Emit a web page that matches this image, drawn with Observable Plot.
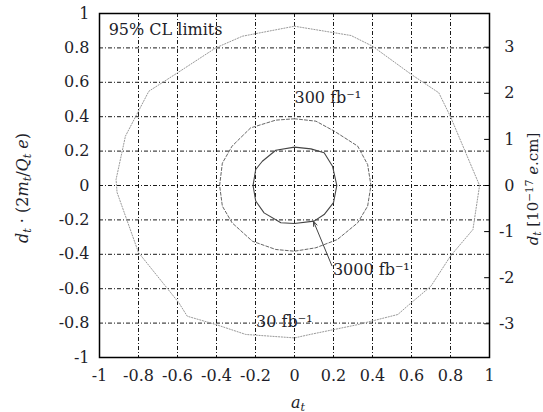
<!DOCTYPE html>
<html>
<head>
<meta charset="utf-8">
<script src="https://cdn.jsdelivr.net/npm/d3@7"></script>
<script src="https://cdn.jsdelivr.net/npm/@observablehq/plot@0.6"></script>
<style>
  html, body { margin: 0; padding: 0; background: #fff; }
  #chart { width: 543px; height: 412px; }
</style>
</head>
<body>
<div id="chart"></div>
<script>
// ---- data ----
const xTicks = [-1, -0.8, -0.6, -0.4, -0.2, 0, 0.2, 0.4, 0.6, 0.8, 1];
const yTicks = [-1, -0.8, -0.6, -0.4, -0.2, 0, 0.2, 0.4, 0.6, 0.8, 1];
const gridValues = [-0.8, -0.6, -0.4, -0.2, 0, 0.2, 0.4, 0.6, 0.8];
const rightTicks = [-3, -2, -1, 0, 1, 2, 3];       // d_t in 10^-17 e.cm
const rightScale = 0.268;                          // left-axis units per right-axis unit

// 95% CL contours, [a_t, d_t*(2m_t/Q_t e)]
const contour30 = [
  [0, 0.926], [0.29, 0.872], [0.40, 0.81], [0.60, 0.645], [0.74, 0.539], [0.80, 0.40],
  [0.949, 0.0], [0.915, -0.256], [0.80, -0.41], [0.70, -0.585], [0.58, -0.70], [0.53, -0.75],
  [0.32, -0.81], [0.08, -0.866], [0, -0.886], [-0.25, -0.866], [-0.404, -0.808], [-0.55, -0.76],
  [-0.593, -0.682], [-0.80, -0.39], [-0.91, -0.04], [-0.915, 0.035], [-0.867, 0.287],
  [-0.747, 0.548], [-0.60, 0.655], [-0.404, 0.80], [-0.267, 0.868], [0, 0.926]
];
const contour300 = [
  [0, 0.388], [0.11, 0.374], [0.204, 0.316], [0.324, 0.229], [0.375, 0.122], [0.392, 0],
  [0.375, -0.12], [0.324, -0.217], [0.22, -0.314], [0.11, -0.362], [0, -0.382],
  [-0.096, -0.372], [-0.216, -0.324], [-0.32, -0.217], [-0.37, -0.12], [-0.384, 0],
  [-0.37, 0.13], [-0.32, 0.229], [-0.225, 0.335], [-0.096, 0.38], [0, 0.388]
];
const contour3000 = [
  [0, 0.223], [0.084, 0.213], [0.152, 0.19], [0.195, 0.112], [0.217, 0], [0.2, -0.10],
  [0.152, -0.169], [0.10, -0.207], [0, -0.221], [-0.07, -0.217], [-0.156, -0.159],
  [-0.199, -0.09], [-0.2125, 0], [-0.199, 0.093], [-0.165, 0.141], [-0.096, 0.205], [0, 0.223]
];

const labelTexts = ["95% CL limits", "300 fb⁻¹", "3000 fb⁻¹", "30 fb⁻¹"];
const labelX = [-0.953, 0.0, 0.197, -0.197];
const labelY = [0.907, 0.51, -0.488, -0.794];

const arrowStart = [0.192, -0.467];
const arrowEnd = [0.097, -0.207];

// ---- chart ----
const FONT = "DejaVu Serif";
const labels = labelTexts.map((t, i) => ({text: t, x: labelX[i], y: labelY[i]}));
const tf = d => String(d);

const plot = Plot.plot({
  width: 543,
  height: 412,
  marginLeft: 99,
  marginRight: 54,
  marginTop: 13,
  marginBottom: 55,
  x: {domain: [-1, 1]},
  y: {domain: [-1, 1]},
  style: {fontFamily: FONT, fontSize: "16px", color: "#1e1e2a", background: "#fff"},
  marks: [
    Plot.ruleX(gridValues, {stroke: "#000", strokeWidth: 0.9, strokeDasharray: "4,2,1,2"}),
    Plot.ruleY(gridValues, {stroke: "#000", strokeWidth: 0.9, strokeDasharray: "4,2,1,2"}),
    Plot.line(contour30, {x: d => d[0], y: d => d[1], stroke: "#999", strokeWidth: 1, strokeDasharray: "1.2,1.6", curve: "linear"}),
    Plot.line(contour300, {x: d => d[0], y: d => d[1], stroke: "#666", strokeWidth: 1, strokeDasharray: "3,2", curve: "linear"}),
    Plot.line(contour3000, {x: d => d[0], y: d => d[1], stroke: "#444", strokeWidth: 1.1, curve: "linear"}),
    Plot.ruleY(rightTicks, {y: d => d * rightScale, x1: 0.975, x2: 1, stroke: "#000", strokeWidth: 1}),
    Plot.frame({stroke: "#000", strokeWidth: 1.5}),
    Plot.arrow([{s: arrowStart, e: arrowEnd}], {
      x1: d => d.s[0], y1: d => d.s[1], x2: d => d.e[0], y2: d => d.e[1],
      stroke: "#444", strokeWidth: 1, headLength: 8, headAngle: 40
    }),
    Plot.text(labels, {x: "x", y: "y", text: "text", textAnchor: "start", fontSize: 16, fill: "#1e1e2a"}),
    Plot.axisX({ticks: xTicks, tickSize: 0, tickPadding: 12, tickFormat: tf, label: null, fontSize: 16}),
    Plot.axisY({anchor: "left", ticks: yTicks, tickSize: 0, tickPadding: 10, tickFormat: tf, label: null, fontSize: 16}),
    Plot.text(rightTicks, {x: 1, y: d => d * rightScale, text: d => String(d), dx: 25, textAnchor: "end", fontSize: 16, fill: "#1e1e2a"})
  ]
});

document.getElementById("chart").appendChild(plot);

// ---- axis titles with italic variables and sub/superscripts ----
const svg = d3.select(plot);
function addLabel(x, y, rotate, size, parts) {
  const t = svg.append("text")
    .attr("transform", `translate(${x},${y}) rotate(${rotate})`)
    .attr("text-anchor", "middle")
    .attr("dy", "0.35em")
    .attr("font-family", FONT)
    .attr("font-size", size)
    .attr("fill", "#1e1e2a");
  parts.forEach(p => {
    const s = t.append("tspan").text(p.t);
    if (p.i) s.attr("font-style", "italic");
    if (p.sub) s.attr("font-size", size * 0.7).attr("baseline-shift", "-25%");
    if (p.sup) s.attr("font-size", size * 0.7).attr("baseline-shift", "45%");
  });
}
addLabel(298, 402, 0, 16, [{t: "a", i: 1}, {t: "t", i: 1, sub: 1}]);
addLabel(22, 188, -90, 16, [
  {t: "d", i: 1}, {t: "t", i: 1, sub: 1}, {t: " · (2"}, {t: "m", i: 1}, {t: "t", i: 1, sub: 1},
  {t: "/"}, {t: "Q", i: 1}, {t: "t", i: 1, sub: 1}, {t: " "}, {t: "e", i: 1}, {t: ")"}
]);
addLabel(533, 189, -90, 15, [
  {t: "d", i: 1}, {t: "t", i: 1, sub: 1}, {t: " [10"}, {t: "−17", sup: 1}, {t: " "}, {t: "e", i: 1}, {t: ".cm]"}
]);
</script>
</body>
</html>
